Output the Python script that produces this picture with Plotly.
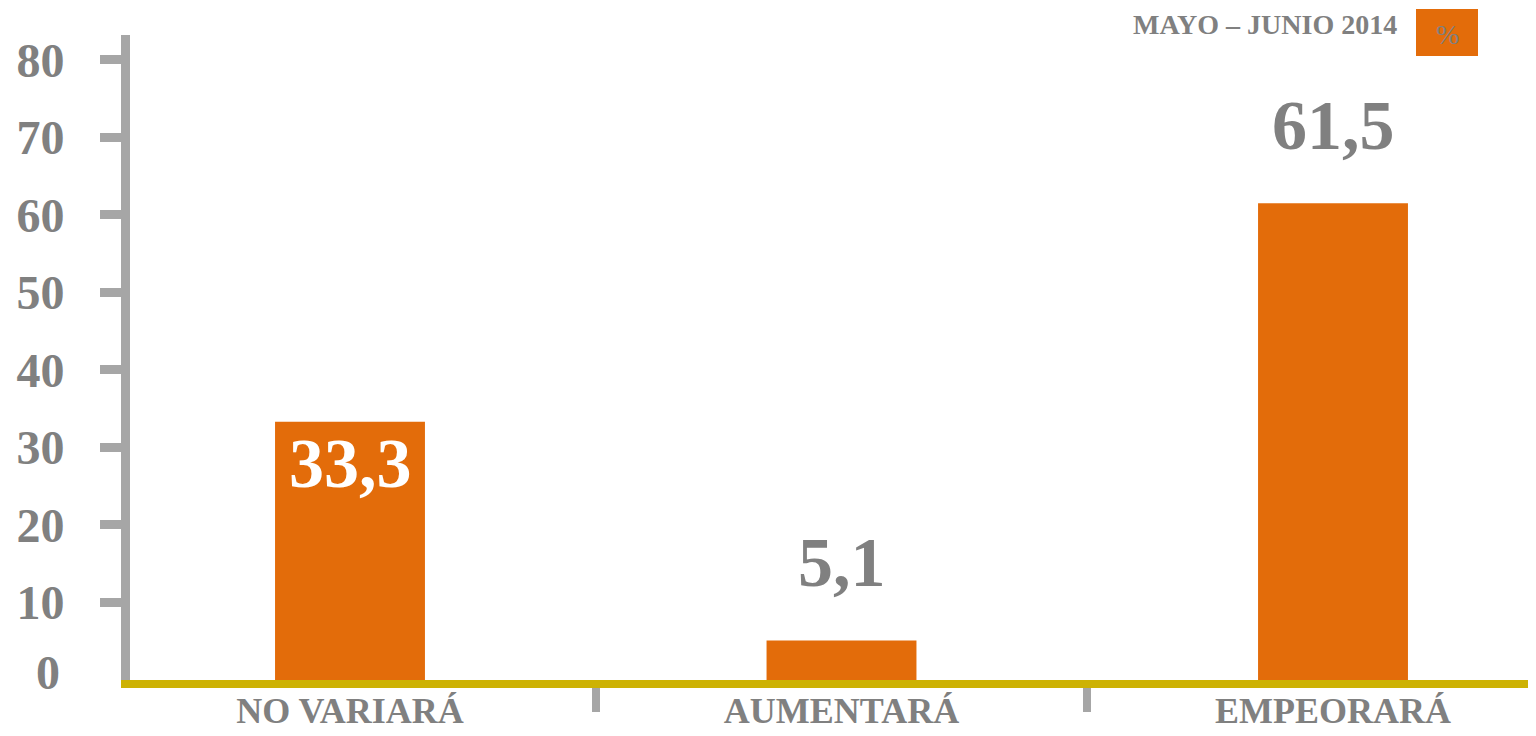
import plotly.graph_objects as go

# Data
categories = ["NO VARIARÁ", "AUMENTARÁ", "EMPEORARÁ"]
values = [33.3, 5.1, 61.5]
value_labels = ["33,3", "5,1", "61,5"]
label_inside = [True, False, False]
y_ticks = [0, 10, 20, 30, 40, 50, 60, 70, 80]
series_name = "MAYO – JUNIO 2014"

ORANGE = "#E36C0A"
GREY_TEXT = "#808080"
GREY_LINE = "#A6A6A6"
OLIVE = "#CDB204"
FONT = "Liberation Serif"

# the page body adds an 8px margin, so the figure is a bit smaller than the window
OFF = 8
W, H = 1536 - OFF, 736 - OFF
M_L, M_R, M_T, M_B = 122, 0, 27, 56

fig = go.Figure()
fig.add_trace(go.Bar(
    x=categories,
    y=values,
    marker=dict(color=ORANGE, line=dict(width=0)),
    width=0.305,
    hoverinfo="x+y",
    showlegend=False,
))

# value labels above / inside the bars
for cat, val, lab, inside in zip(categories, values, value_labels, label_inside):
    fig.add_annotation(
        x=cat, y=val, text=f"<b>{lab}</b>",
        showarrow=False,
        yshift=-42 if inside else 78,
        font=dict(family=FONT, size=70, color="white" if inside else GREY_TEXT),
    )

# page pixel -> paper helpers for the header and the zero label
pw = W - M_L - M_R
ph = H - M_T - M_B
def px_x(p):
    return (p - OFF - M_L) / pw
def px_y(p):
    return (H - M_B - (p - OFF)) / ph

# zero label (no tick mark at zero in the original)
fig.add_annotation(
    x=px_x(62), y=y_ticks[0], xref="paper", yref="y",
    xanchor="right", yanchor="middle", showarrow=False, yshift=8,
    text=f"<b>{y_ticks[0]}</b>",
    font=dict(family=FONT, size=48, color=GREY_TEXT),
)

# legend-like header in the top right corner
fig.add_annotation(
    x=px_x(1399), y=px_y(25), xref="paper", yref="paper",
    xanchor="right", yanchor="middle", showarrow=False,
    text=f"<b>{series_name}</b>",
    font=dict(family=FONT, size=28, color=GREY_TEXT),
)
fig.add_shape(
    type="rect", xref="paper", yref="paper",
    x0=px_x(1416), x1=px_x(1478), y0=px_y(56), y1=px_y(9),
    fillcolor=ORANGE, line=dict(width=0),
)
fig.add_annotation(
    x=px_x(1447), y=px_y(34), xref="paper", yref="paper",
    xanchor="center", yanchor="middle", showarrow=False, text="%",
    font=dict(family=FONT, size=28, color=GREY_TEXT),
)

fig.update_layout(
    width=W, height=H,
    margin=dict(l=M_L, r=M_R, t=M_T, b=M_B, autoexpand=False),
    plot_bgcolor="white", paper_bgcolor="white",
    font=dict(family=FONT, color=GREY_TEXT),
)
fig.update_xaxes(
    type="category",
    range=[-0.4476, 2.413],
    automargin=False,
    showline=True, linecolor=OLIVE, linewidth=8,
    showgrid=False, zeroline=False,
    ticks="outside", tickson="boundaries", ticklen=24, tickwidth=8, tickcolor=GREY_LINE,
    ticklabelstandoff=-8,
    tickfont=dict(family=FONT, size=36, color=GREY_TEXT, weight="bold"),
)
fig.update_yaxes(
    range=[0, 83.2],
    automargin=False,
    tickvals=y_ticks[1:],
    showline=True, linecolor=GREY_LINE, linewidth=9,
    showgrid=False, zeroline=False,
    ticks="outside", ticklen=21, tickwidth=9, tickcolor=GREY_LINE,
    ticklabelstandoff=26,
    tickfont=dict(family=FONT, size=48, color=GREY_TEXT, weight="bold"),
)

fig.write_html("out.html")
